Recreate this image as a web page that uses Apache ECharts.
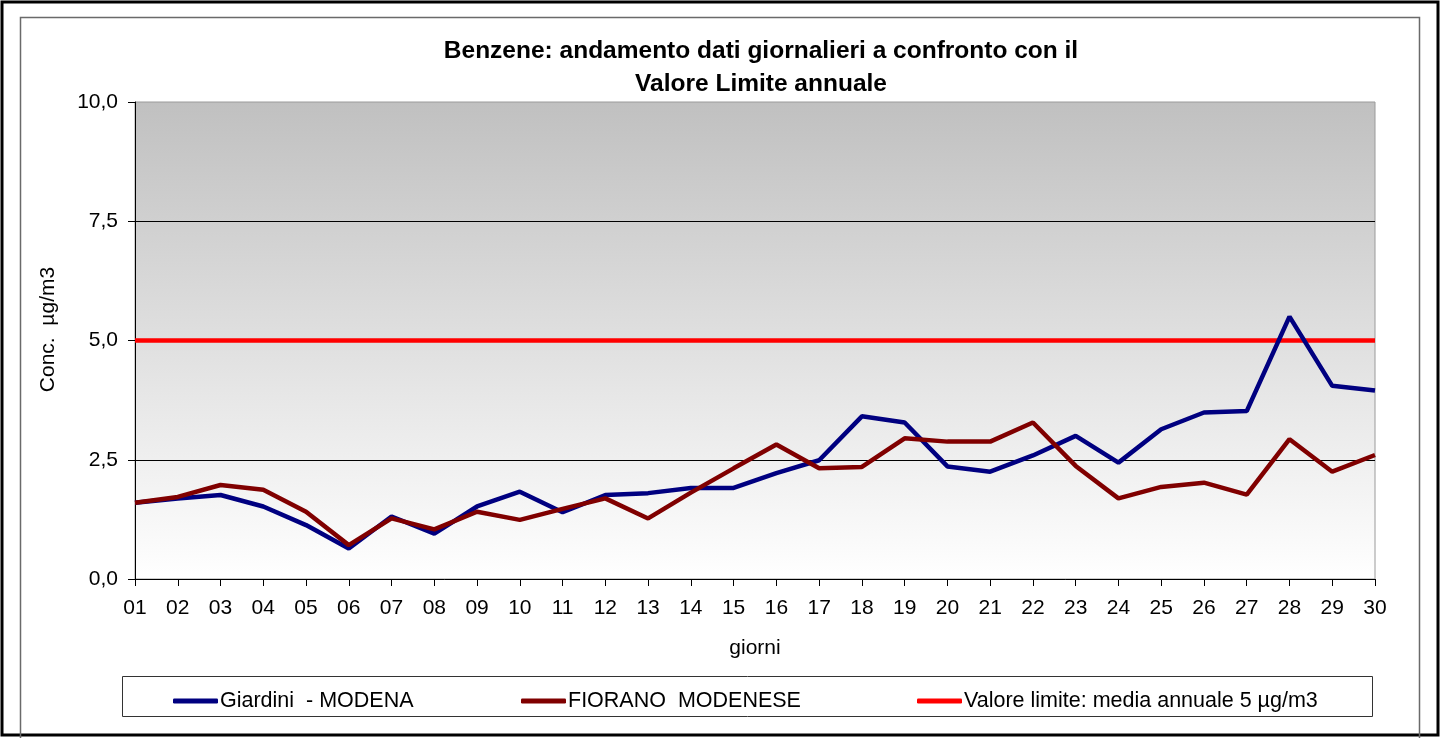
<!DOCTYPE html>
<html style="height: 100%">
  <head>
    <meta charset="UTF-8" />
    <title>Benzene - andamento giornaliero</title>
    <script src="https://cdn.jsdelivr.net/npm/echarts@6/dist/echarts.min.js"></script>
  </head>
  <body style="height: 100%; margin: 0; background: #fff">
    <div id="main" style="width: 1441px; height: 738px"></div>
    <script>
      const days = ['01', '02', '03', '04', '05', '06', '07', '08', '09', '10',
        '11', '12', '13', '14', '15', '16', '17', '18', '19', '20',
        '21', '22', '23', '24', '25', '26', '27', '28', '29', '30']

      // Giardini - MODENA
      const giardini = [1.60, 1.69, 1.76, 1.52, 1.13, 0.64, 1.31, 0.95, 1.52, 1.83,
        1.40, 1.76, 1.80, 1.91, 1.91, 2.22, 2.49, 3.41, 3.28, 2.36,
        2.25, 2.59, 3.00, 2.44, 3.14, 3.49, 3.52, 5.50, 4.05, 3.95]

      // FIORANO MODENESE
      const fiorano = [1.60, 1.72, 1.97, 1.87, 1.41, 0.71, 1.27, 1.04, 1.41, 1.24,
        1.47, 1.69, 1.27, 1.81, 2.32, 2.82, 2.32, 2.35, 2.95, 2.88,
        2.88, 3.28, 2.37, 1.69, 1.93, 2.02, 1.77, 2.93, 2.25, 2.60]

      // valore limite annuale
      const limite = [5, 5, 5, 5, 5, 5, 5, 5, 5, 5,
        5, 5, 5, 5, 5, 5, 5, 5, 5, 5,
        5, 5, 5, 5, 5, 5, 5, 5, 5, 5]

      const seriesNames = ['Giardini  - MODENA', 'FIORANO  MODENESE', 'Valore limite: media annuale 5 µg/m3']
      const yTicks = [0, 2.5, 5, 7.5, 10]

      const font = 'Liberation Sans, Arial, sans-serif'
      const chart = echarts.init(document.getElementById('main'))

      const legendAt = (name, left) => ({
        data: [name],
        left: left,
        top: 685,
        icon: 'roundRect',
        itemWidth: 45,
        itemHeight: 5,
        textStyle: { fontFamily: font, fontSize: 21.5, color: '#000', padding: [0, 0, 0, -3] },
      })

      const option = {
        animation: false,
        title: {
          text: 'Benzene: andamento dati giornalieri a confronto con il\nValore Limite annuale',
          left: 756,
          top: 30,
          textAlign: 'center',
          textStyle: {
            fontFamily: font,
            fontSize: 24.5,
            fontWeight: 'bold',
            color: '#000',
            lineHeight: 33,
          },
        },
        legend: [
          legendAt(seriesNames[0], 168),
          legendAt(seriesNames[1], 516),
          legendAt(seriesNames[2], 912),
        ],
        grid: {
          left: 135,
          right: 66,
          top: 102,
          bottom: 159,
          show: true,
          borderColor: '#9a9a9a',
          borderWidth: 1,
          backgroundColor: new echarts.graphic.LinearGradient(0, 0, 0, 1, [
            { offset: 0, color: '#c0c0c0' },
            { offset: 1, color: '#ffffff' },
          ]),
        },
        xAxis: {
          type: 'category',
          data: days,
          boundaryGap: false,
          name: 'giorni',
          nameLocation: 'middle',
          nameGap: 59,
          nameTextStyle: { fontFamily: font, fontSize: 21, color: '#000' },
          axisLine: { lineStyle: { color: '#000', width: 1 } },
          axisTick: { alignWithLabel: true, length: 7, lineStyle: { color: '#000' } },
          axisLabel: { fontFamily: font, fontSize: 21, color: '#000', margin: 19 },
          splitLine: { show: false },
        },
        yAxis: {
          type: 'value',
          min: yTicks[0],
          max: yTicks[yTicks.length - 1],
          interval: 2.5,
          name: 'Conc.  µg/m3',
          nameLocation: 'middle',
          nameGap: 76,
          nameTextStyle: { fontFamily: font, fontSize: 21, color: '#000', padding: [0, 0, 0, 22] },
          axisLine: { show: true, lineStyle: { color: '#000', width: 1 } },
          axisTick: { show: true, length: 7, lineStyle: { color: '#000' } },
          axisLabel: {
            fontFamily: font,
            fontSize: 21,
            color: '#000',
            margin: 17,
            formatter: (v) => v.toFixed(1).replace('.', ','),
          },
          splitLine: {
            show: true,
            showMinLine: false,
            showMaxLine: false,
            lineStyle: { color: '#000', width: 1 },
          },
        },
        series: [
          {
            name: seriesNames[0],
            type: 'line',
            data: giardini,
            showSymbol: false,
            color: '#000080',
            lineStyle: { width: 4.5, color: '#000080' },
            z: 3,
          },
          {
            name: seriesNames[1],
            type: 'line',
            data: fiorano,
            showSymbol: false,
            color: '#800000',
            lineStyle: { width: 4.5, color: '#800000' },
            z: 4,
          },
          {
            name: seriesNames[2],
            type: 'line',
            data: limite,
            showSymbol: false,
            color: '#ff0000',
            lineStyle: { width: 4.5, color: '#ff0000' },
            z: 2,
          },
        ],
        graphic: [
          {
            type: 'rect',
            shape: { x: 2, y: 2, width: 1436, height: 733 },
            style: { fill: 'none', stroke: '#000', lineWidth: 3 },
            silent: true,
          },
          {
            type: 'rect',
            shape: { x: 20.5, y: 17.5, width: 1399, height: 740 },
            style: { fill: 'none', stroke: '#6a6a6a', lineWidth: 1.5 },
            silent: true,
          },
          {
            type: 'rect',
            shape: { x: 122.5, y: 676.5, width: 1250, height: 40 },
            style: { fill: 'none', stroke: '#333', lineWidth: 1 },
            silent: true,
            z: -1,
          },
        ],
      }

      chart.setOption(option)
    </script>
  </body>
</html>
